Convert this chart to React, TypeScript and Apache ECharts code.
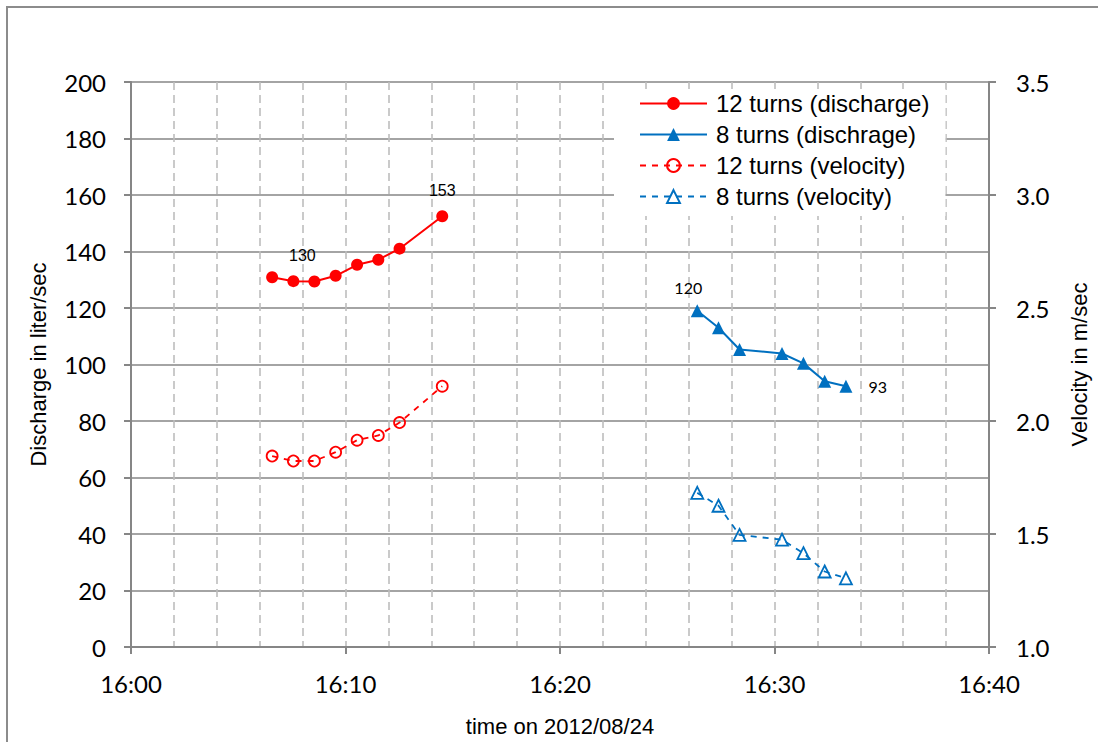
import React, { useEffect, useRef } from "react";
import * as echarts from "echarts";

// time in minutes after 16:00
const redTimes = [6.58, 7.57, 8.55, 9.54, 10.54, 11.53, 12.52, 14.51];
const redDischarge = [130.9, 129.5, 129.4, 131.4, 135.3, 137.1, 141.0, 152.5];
const redVelocity = [1.845, 1.823, 1.823, 1.862, 1.915, 1.936, 1.993, 2.154];

const blueTimes = [26.4, 27.39, 28.37, 30.35, 31.35, 32.34, 33.33];
const blueDischarge = [119.0, 113.0, 105.3, 103.9, 100.4, 94.1, 92.3];
const blueVelocity = [1.682, 1.625, 1.496, 1.475, 1.415, 1.334, 1.304];

const seriesNames = [
  "12 turns (discharge)",
  "8 turns (dischrage)",
  "12 turns (velocity)",
  "8 turns (velocity)",
];

// point labels: index -> text
const redLabels: Record<number, string> = { 1: "130", 7: "153" };
const blueLabels: Record<number, string> = { 0: "120", 6: "93" };

const xTicks = [0, 10, 20, 30, 40];

const RED = "#ff0000";
const BLUE = "#0070c0";
const GRID_GRAY = "#868686";
const DASH_GRAY = "#bdbdbd";

export default function App() {
  const ref = useRef<HTMLDivElement>(null);

  useEffect(() => {
    if (!ref.current) return;
    const chart = echarts.init(ref.current, undefined, { renderer: "svg" });

    const labelStyle = (font: string) => ({
      fontFamily: font,
      fontSize: 16,
      color: "#000",
    });

    const redDisData = redTimes.map((t, i) => {
      const item: any = { value: [t, redDischarge[i]] };
      if (redLabels[i]) {
        item.label = {
          show: true,
          position: "top",
          distance: 12,
          offset: i === 1 ? [9, 0] : [0, 0],
          formatter: redLabels[i],
          ...labelStyle("Liberation Sans"),
        };
      }
      return item;
    });

    const blueDisData = blueTimes.map((t, i) => {
      const item: any = { value: [t, blueDischarge[i]] };
      if (blueLabels[i]) {
        item.label =
          i === 0
            ? {
                show: true,
                position: "top",
                distance: 9,
                offset: [-9, 0],
                formatter: blueLabels[i],
                ...labelStyle("Lato"),
              }
            : {
                show: true,
                position: "right",
                distance: 16,
                formatter: blueLabels[i],
                ...labelStyle("Lato"),
              };
      }
      return item;
    });

    const axisFont = { fontFamily: "Lato", fontSize: 24, color: "#000" };
    const titleFont = { fontFamily: "Liberation Sans", fontSize: 22, color: "#000" };

    chart.setOption({
      animation: false,
      backgroundColor: "#fff",
      graphic: [
        {
          type: "rect",
          shape: { x: 7, y: 7, width: 1100, height: 760 },
          style: { fill: "none", stroke: "#8c8c8c", lineWidth: 2 },
          silent: true,
          z: 100,
        },
      ],
      grid: { left: 131, right: 108, top: 82, bottom: 95 },
      legend: {
        data: seriesNames,
        orient: "vertical",
        left: 614,
        top: 89,
        padding: [2, 16, 7, 25],
        backgroundColor: "#fff",
        itemWidth: 67,
        itemHeight: 16,
        itemGap: 6,
        selectedMode: false,
        textStyle: {
          fontFamily: "Liberation Sans",
          fontSize: 24,
          lineHeight: 25,
          color: "#000",
          padding: [0, 0, 0, 4],
        },
        z: 10,
      },
      xAxis: {
        type: "value",
        min: 0,
        max: 40,
        interval: 10,
        name: "time on 2012/08/24",
        nameLocation: "middle",
        nameGap: 68,
        nameTextStyle: titleFont,
        axisLine: { show: true, onZero: false, lineStyle: { color: GRID_GRAY, width: 2 } },
        axisTick: { show: true, length: 7, lineStyle: { color: GRID_GRAY, width: 2 } },
        axisLabel: {
          ...axisFont,
          margin: 24,
          customValues: xTicks,
          formatter: (v: number) => `16:${String(Math.round(v)).padStart(2, "0")}`,
        },
        splitLine: { show: true, lineStyle: { color: DASH_GRAY, width: 1.6, type: [8, 5] } },
        minorTick: { show: false, splitNumber: 5 },
        minorSplitLine: { show: true, lineStyle: { color: DASH_GRAY, width: 1.6, type: [8, 5] } },
      },
      yAxis: [
        {
          type: "value",
          min: 0,
          max: 200,
          interval: 20,
          name: "Discharge in liter/sec",
          nameLocation: "middle",
          nameGap: 82,
          nameRotate: 90,
          nameTextStyle: titleFont,
          axisLine: { show: true, lineStyle: { color: GRID_GRAY, width: 2 } },
          axisTick: { show: true, length: 7, lineStyle: { color: GRID_GRAY, width: 2 } },
          axisLabel: { ...axisFont, margin: 25 },
          splitLine: { show: true, lineStyle: { color: GRID_GRAY, width: 1.5 } },
        },
        {
          type: "value",
          min: 1,
          max: 3.5,
          interval: 0.5,
          position: "right",
          name: "Velocity in m/sec",
          nameLocation: "middle",
          nameGap: 79,
          nameRotate: 90,
          nameTextStyle: titleFont,
          axisLine: { show: true, lineStyle: { color: GRID_GRAY, width: 2 } },
          axisTick: { show: true, length: 7, lineStyle: { color: GRID_GRAY, width: 2 } },
          axisLabel: { ...axisFont, margin: 27, formatter: (v: number) => v.toFixed(1) },
          splitLine: { show: false },
        },
      ],
      series: [
        {
          name: seriesNames[0],
          type: "line",
          yAxisIndex: 0,
          data: redDisData,
          symbol: "circle",
          symbolSize: 12,
          color: RED,
          lineStyle: { color: RED, width: 2 },
          itemStyle: { color: RED },
          z: 5,
        },
        {
          name: seriesNames[1],
          type: "line",
          yAxisIndex: 0,
          data: blueDisData,
          symbol: "triangle",
          symbolSize: 13,
          color: BLUE,
          lineStyle: { color: BLUE, width: 2 },
          itemStyle: { color: BLUE },
          z: 5,
        },
        {
          name: seriesNames[2],
          type: "line",
          yAxisIndex: 1,
          data: redTimes.map((t, i) => [t, redVelocity[i]]),
          symbol: "circle",
          symbolSize: 11,
          color: RED,
          lineStyle: { color: RED, width: 1.8, type: [6, 6] },
          itemStyle: { color: "rgba(255,255,255,0)", borderColor: RED, borderWidth: 1.8 },
          z: 5,
        },
        {
          name: seriesNames[3],
          type: "line",
          yAxisIndex: 1,
          data: blueTimes.map((t, i) => [t, blueVelocity[i]]),
          symbol: "triangle",
          symbolSize: 12,
          color: BLUE,
          lineStyle: { color: BLUE, width: 1.8, type: [6, 6] },
          itemStyle: { color: "rgba(255,255,255,0)", borderColor: BLUE, borderWidth: 1.8 },
          z: 5,
        },
      ],
    });

    return () => chart.dispose();
  }, []);

  return (
    <div
      ref={ref}
      style={{ position: "absolute", left: 0, top: 0, width: 1098, height: 742 }}
    />
  );
}
